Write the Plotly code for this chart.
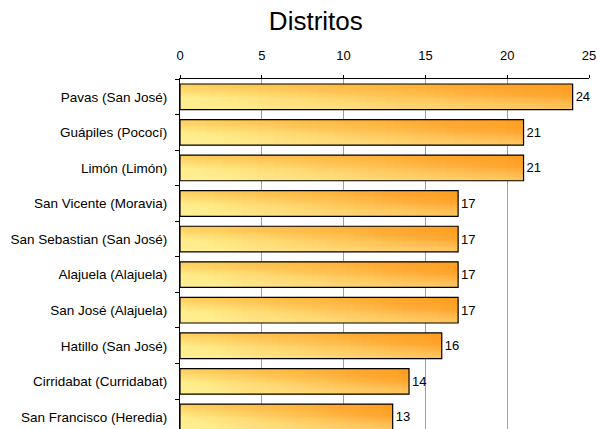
import plotly.graph_objects as go

categories = [
    "Pavas (San José)",
    "Guápiles (Pococí)",
    "Limón (Limón)",
    "San Vicente (Moravia)",
    "San Sebastian (San José)",
    "Alajuela (Alajuela)",
    "San José (Alajuela)",
    "Hatillo (San José)",
    "Cirridabat (Curridabat)",
    "San Francisco (Heredia)",
]
values = [24, 21, 21, 17, 17, 17, 17, 16, 14, 13]
x_ticks = [0, 5, 10, 15, 20, 25]

FONT = "Arial, Liberation Sans, sans-serif"
C_RIGHT = (255, 166, 48)
C_LEFT = (255, 238, 138)
N = 40
M = 10
BW = 0.72

fig = go.Figure()
# horizontal part of the gradient: overlaid bars of the same data
for k in range(N):
    f = 1 - k / N
    t = k / (N - 1)
    col = tuple(round(C_RIGHT[i] + (C_LEFT[i] - C_RIGHT[i]) * t) for i in range(3))
    fig.add_trace(go.Bar(
        y=categories, x=[v * f for v in values], orientation="h",
        width=BW, marker=dict(color="rgb(%d,%d,%d)" % col, line=dict(width=0)),
        hoverinfo="skip", showlegend=False,
    ))
# vertical part: lighter towards the bottom edge, deeper towards the top edge
for j in range(M):
    w = (BW / 2) * (1 - j / M)
    fig.add_trace(go.Bar(
        y=categories, x=values, orientation="h",
        width=w, offset=BW / 2 - w,
        marker=dict(color="rgba(255,255,175,0.05)", line=dict(width=0)),
        hoverinfo="skip", showlegend=False,
    ))
    fig.add_trace(go.Bar(
        y=categories, x=values, orientation="h",
        width=w, offset=-BW / 2,
        marker=dict(color="rgba(255,140,0,0.035)", line=dict(width=0)),
        hoverinfo="skip", showlegend=False,
    ))
# outline + labels
fig.add_trace(go.Bar(
    y=categories, x=values, orientation="h", width=BW,
    marker=dict(color="rgba(0,0,0,0)", line=dict(color="black", width=1.2)),
    text=[str(v) for v in values], textposition="outside",
    textfont=dict(family=FONT, size=13, color="black"),
    cliponaxis=False, showlegend=False,
))

fig.update_layout(
    width=597, height=429,
    barmode="overlay",
    paper_bgcolor="white", plot_bgcolor="white",
    margin=dict(l=180, r=8, t=79, b=0, autoexpand=False),
    title=dict(text="Distritos", x=0.529, xanchor="center", y=0.952, yanchor="middle",
               font=dict(family=FONT, size=26, color="black")),
    font=dict(family=FONT, size=13, color="black"),
)
fig.update_xaxes(
    side="top", range=[0, 25], tickvals=x_ticks, showgrid=True,
    gridcolor="#a0a0a0", gridwidth=1, zeroline=False, automargin=False,
    showline=True, linecolor="black", linewidth=1,
    ticks="outside", ticklen=3, tickcolor="black",
    ticklabelstandoff=10, ticklabeloverflow="allow",
    tickfont=dict(family=FONT, size=13, color="black"),
)
fig.update_yaxes(
    type="category", categoryorder="array", categoryarray=categories,
    range=[9.34, -0.5], showgrid=False, zeroline=False, automargin=False,
    showline=True, linecolor="black", linewidth=1,
    ticks="outside", ticklen=4, tickcolor="black", tickson="boundaries",
    ticklabelstandoff=9,
    tickfont=dict(family=FONT, size=13.5, color="black"),
)

fig.write_html(
    "out.html",
    config={"displayModeBar": False},
    post_script="document.body.style.margin='0';document.body.style.overflow='hidden';",
)
